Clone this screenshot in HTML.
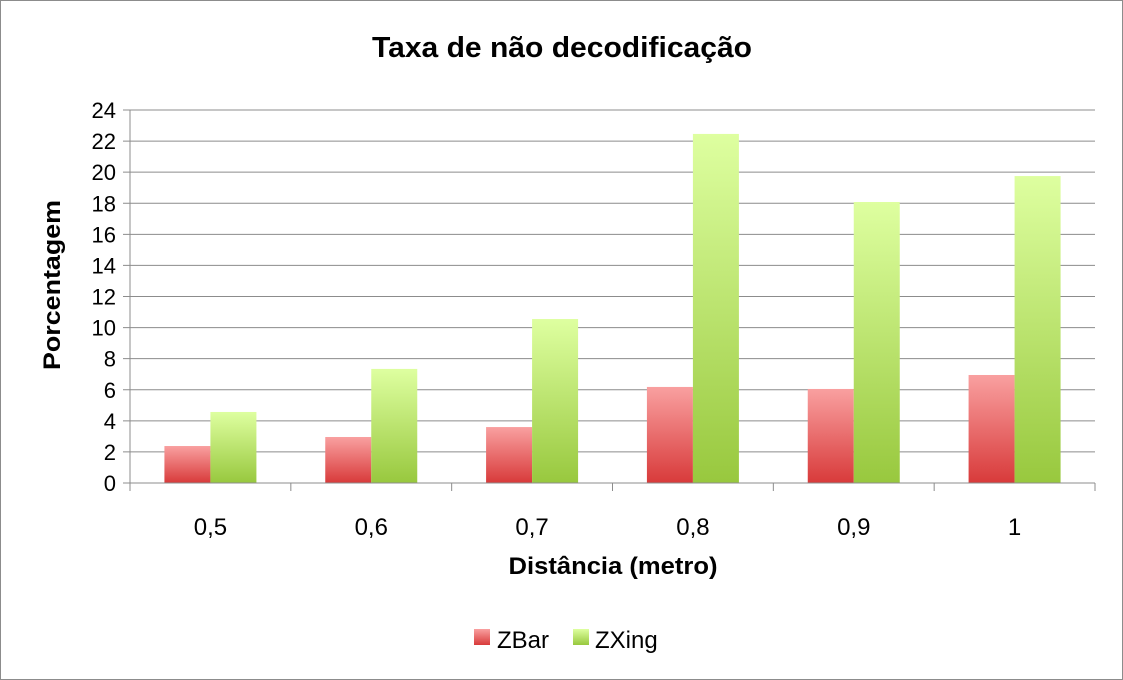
<!DOCTYPE html>
<html><head><meta charset="utf-8"><style>
body{margin:0;background:#fff;}
svg{display:block;font-family:"Liberation Sans",sans-serif;}
</style></head><body>
<svg id="chart" width="1123" height="680">
<defs>
<linearGradient id="gr" x1="0" y1="0" x2="0" y2="1"><stop offset="0" stop-color="#f9a0a0"/><stop offset="1" stop-color="#d83a3a"/></linearGradient>
<linearGradient id="gg" x1="0" y1="0" x2="0" y2="1"><stop offset="0" stop-color="#deffa0"/><stop offset="1" stop-color="#98c83e"/></linearGradient>
</defs>
<rect x="0.5" y="0.5" width="1122" height="679" fill="#fff" stroke="#8c8c8c"/>
<text x="562" y="57" text-anchor="middle" font-size="29" font-weight="bold" textLength="380" lengthAdjust="spacingAndGlyphs">Taxa de não decodificação</text>
<text transform="translate(60,285) rotate(-90)" text-anchor="middle" font-size="24" font-weight="bold" textLength="170" lengthAdjust="spacingAndGlyphs">Porcentagem</text>
<text x="613" y="574" text-anchor="middle" font-size="24" font-weight="bold" textLength="209" lengthAdjust="spacingAndGlyphs">Distância (metro)</text>
<g id="grid"></g><g id="bars"></g><g id="axes"></g>
<g>
<rect x="474" y="629" width="16" height="16" fill="url(#gr)"/>
<text x="497" y="648" font-size="24">ZBar</text>
<rect x="573" y="629" width="16" height="16" fill="url(#gg)"/>
<text x="595" y="648" font-size="24">ZXing</text>
</g>
</svg>
<script>
const categories=["0,5","0,6","0,7","0,8","0,9","1"];
const zbar=[2.38,2.96,3.6,6.18,6.05,6.95];
const zxing=[4.57,7.34,10.55,22.46,18.08,19.75];
const yTicks=[0,2,4,6,8,10,12,14,16,18,20,22,24];
const NS="http://www.w3.org/2000/svg";
const L=130,R=1095,T=110,B=483,yMax=24;
const y=v=>B-(v/yMax)*(B-T);
const bw=(R-L)/categories.length;
const cx=i=>L+bw*(i+0.5);
function mk(p,tag,a){const e=document.createElementNS(NS,tag);for(const k in a)e.setAttribute(k,a[k]);document.getElementById(p).appendChild(e);return e;}
yTicks.forEach(t=>{
 const g=mk('grid','line',{x1:L-7,x2:R,y1:y(t),y2:y(t),stroke:'#8c8c8c','stroke-width':1});
 
 
 const tx=mk('axes','text',{x:L-14,y:y(t)+8,'text-anchor':'end','font-size':22});
 tx.textContent=t;
 
 
});
categories.forEach((c,i)=>{
 const a=mk('bars','rect',{x:cx(i)-46,y:y(zbar[i]),width:46,height:B-y(zbar[i]),fill:'url(#gr)'});
 
 
 const b=mk('bars','rect',{x:cx(i),y:y(zxing[i]),width:46,height:B-y(zxing[i]),fill:'url(#gg)'});
 
 
 const tx=mk('axes','text',{x:cx(i),y:535,'text-anchor':'middle','font-size':24});
 tx.textContent=c;
 
 
});
for(let i=0;i<=categories.length;i++){
 const t=mk('axes','line',{x1:L+bw*i,x2:L+bw*i,y1:B,y2:B+8,stroke:'#8c8c8c'});
 
 
}
const ya=mk('axes','line',{x1:L,x2:L,y1:T,y2:B+8,stroke:'#8c8c8c'});


const xa=mk('axes','line',{x1:L,x2:R,y1:B,y2:B,stroke:'#8c8c8c'});


</script>
</body></html>
